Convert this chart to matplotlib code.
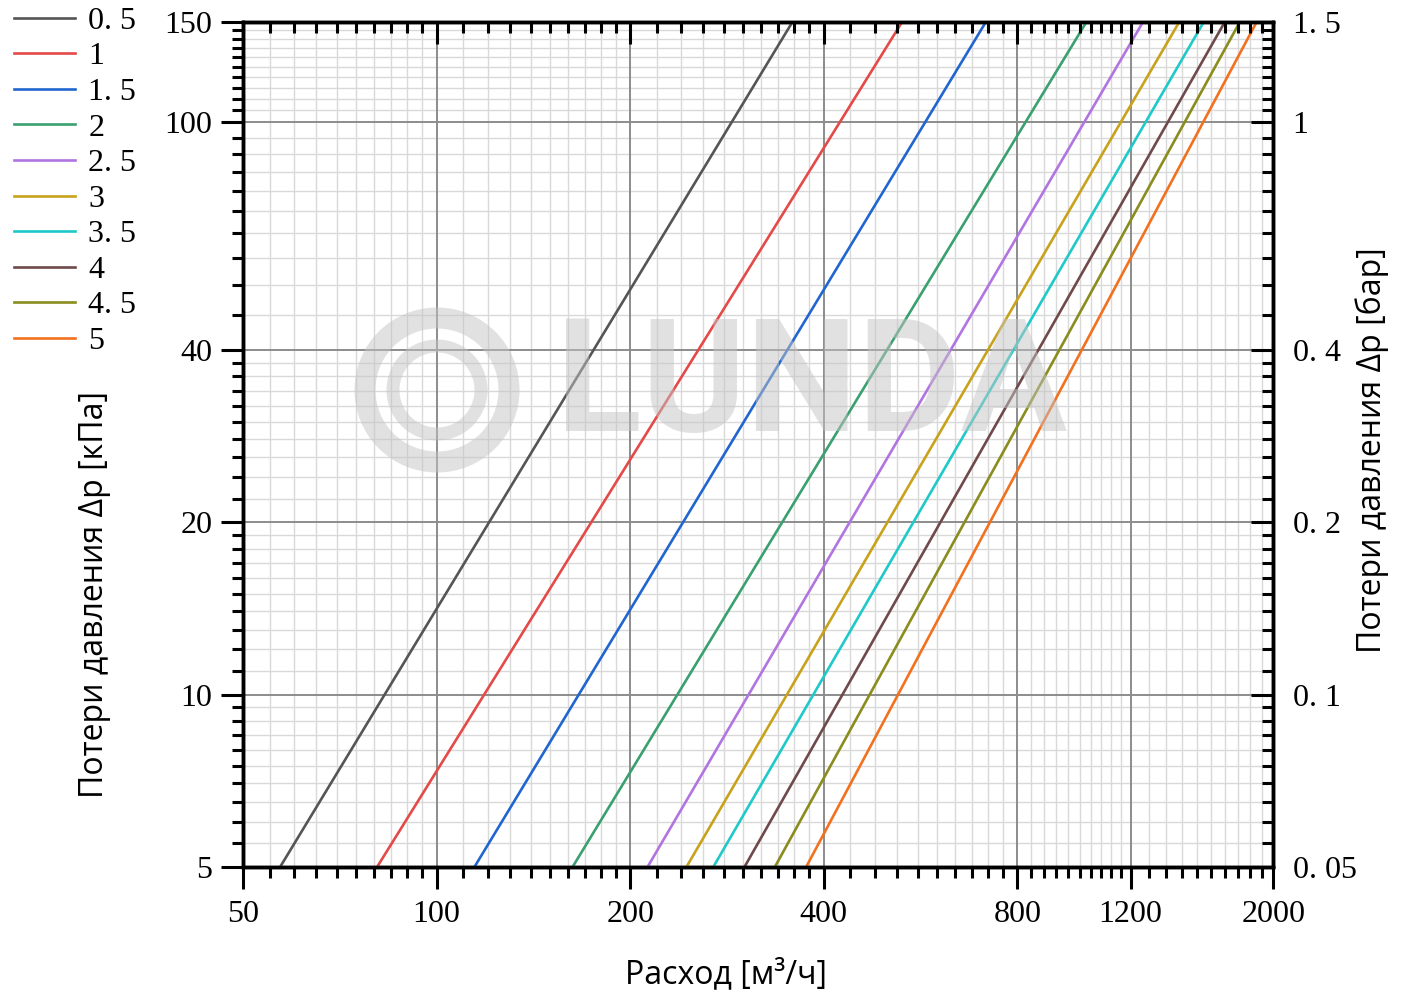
import numpy as np
import matplotlib
matplotlib.use("Agg")
import matplotlib.pyplot as plt
from matplotlib.patches import Circle
from matplotlib.transforms import IdentityTransform
from matplotlib.ticker import FixedLocator, NullFormatter

# Kv series (legend labels) and flow at the bottom (5 kPa) / top (150 kPa) of the chart
series = ["0. 5", "1", "1. 5", "2", "2. 5", "3", "3. 5", "4", "4. 5", "5"]
q_low = [57.1, 80.8, 114.5, 162.7, 212.8, 244.6, 269.3, 301.1, 335.7, 375.5]
q_high = [357.7, 529.7, 715, 1025, 1255, 1429, 1560, 1682, 1775, 1885]
dp_ends = [5, 150]
colors = ["#555555", "#e44a48", "#2166d0", "#3aa070", "#b274e0",
          "#c9a21c", "#1fc9c9", "#704a4a", "#8a8c1e", "#f2711f"]

x_major = [50, 100, 200, 400, 800, 1200, 2000]
y_major = [5, 10, 20, 40, 100, 150]
y_major_bar = [0.05, 0.1, 0.2, 0.4, 1, 1.5]
y_bar_labels = ["0. 05", "0. 1", "0. 2", "0. 4", "1", "1. 5"]

# Origin-style linear minor ticks, 9 per major interval
x_minor = (list(range(55, 100, 5)) + list(range(110, 200, 10)) + list(range(220, 400, 20))
           + list(range(440, 800, 40)) + list(range(840, 1200, 40)) + list(range(1280, 2000, 80)))
y_minor = (list(np.arange(5.5, 10, 0.5)) + list(range(11, 20)) + list(range(22, 40, 2))
           + list(range(46, 100, 6)) + list(range(105, 150, 5)))

serif = "Liberation Serif"
sans = "Open Sans"
fs_tick = 23

fig = plt.figure(figsize=(14.04, 9.97), dpi=100)
ax = fig.add_axes([0.1731, 0.1304, 0.9069 - 0.1731, 0.9782 - 0.1304])

ax.set_xscale("log")
ax.set_yscale("log")
ax.set_xlim(50, 2000)
ax.set_ylim(5, 150)

ax.xaxis.set_major_locator(FixedLocator(x_major))
ax.xaxis.set_minor_locator(FixedLocator(x_minor))
ax.yaxis.set_major_locator(FixedLocator(y_major))
ax.yaxis.set_minor_locator(FixedLocator(y_minor))
ax.set_xticklabels([str(v) for v in x_major], fontfamily=serif, fontsize=fs_tick)
ax.set_yticklabels([str(v) for v in y_major], fontfamily=serif, fontsize=fs_tick)
ax.xaxis.set_minor_formatter(NullFormatter())
ax.yaxis.set_minor_formatter(NullFormatter())

ax.tick_params(which="major", direction="out", length=16, width=2.2, pad=6)
ax.tick_params(which="minor", direction="out", length=8, width=2.2)
ax.tick_params(axis="x", which="major", pad=8)

# light minor grid, darker major grid drawn on top of it
ax.grid(which="minor", color="#d9d9d9", linewidth=1.0)
ax.set_axisbelow(True)
for v in x_major[1:-1]:
    ax.axvline(v, color="#8c8c8c", linewidth=1.4, zorder=0.8)
for v in y_major[1:-1]:
    ax.axhline(v, color="#8c8c8c", linewidth=1.4, zorder=0.8)

for s in ax.spines.values():
    s.set_linewidth(2.4)

# watermark
wm_color = "#c4c4c4"
for r, w in [(72, 21), (44, 13)]:
    c = Circle((437, 997 - 390), r, transform=IdentityTransform(), fill=False,
               edgecolor=wm_color, linewidth=w * 0.72, alpha=0.5, zorder=1)
    fig.add_artist(c)
fig.text(812 / 1404, 1 - 388 / 997, "LUNDA", fontsize=114, fontweight="bold",
         fontfamily="Roboto", color=wm_color, alpha=0.5, ha="center", va="center", zorder=1)

lines = []
for name, lo, hi, col in zip(series, q_low, q_high, colors):
    ln, = ax.plot([lo, hi], dp_ends, color=col, linewidth=1.9, label=name, zorder=3)
    lines.append(ln)

# right axis in bar
ax2 = ax.twinx()
ax2.set_yscale("log")
ax2.set_ylim(0.05, 1.5)
ax2.yaxis.set_major_locator(FixedLocator(y_major_bar))
ax2.yaxis.set_minor_locator(FixedLocator([v / 100 for v in y_minor]))
ax2.set_yticklabels(y_bar_labels, fontfamily=serif, fontsize=fs_tick)
ax2.yaxis.set_minor_formatter(NullFormatter())
ax2.tick_params(which="major", direction="in", length=16, width=2.2, pad=14)
ax2.tick_params(which="minor", direction="in", length=8, width=2.2)

# top axis ticks pointing inside
ax3 = ax.twiny()
ax3.set_xscale("log")
ax3.set_xlim(50, 2000)
ax3.xaxis.set_major_locator(FixedLocator(x_major))
ax3.xaxis.set_minor_locator(FixedLocator(x_minor))
ax3.xaxis.set_major_formatter(NullFormatter())
ax3.xaxis.set_minor_formatter(NullFormatter())
ax3.tick_params(which="major", direction="in", length=16, width=2.2)
ax3.tick_params(which="minor", direction="in", length=8, width=2.2)

for a in (ax2, ax3):
    for s in a.spines.values():
        s.set_linewidth(2.4)

fig.legend(handles=lines, loc="upper left", bbox_to_anchor=(0.0, 1.008),
           frameon=False, prop={"family": serif, "size": fs_tick},
           handlelength=1.9, handletextpad=0.42, labelspacing=0.195,
           borderaxespad=0.25, borderpad=0.2)

fig.text(95 / 1404, 1 - 595 / 997, "Потери давления Δp [кПа]", rotation=90,
         fontfamily=sans, fontsize=23, ha="center", va="center")
fig.text(1372 / 1404, 1 - 450 / 997, "Потери давления Δp [бар]", rotation=90,
         fontfamily=sans, fontsize=23, ha="center", va="center")
fig.text(726 / 1404, 1 - 975 / 997, "Расход [м³/ч]",
         fontfamily=sans, fontsize=23, ha="center", va="center")

fig.savefig("out.png", dpi=100)
